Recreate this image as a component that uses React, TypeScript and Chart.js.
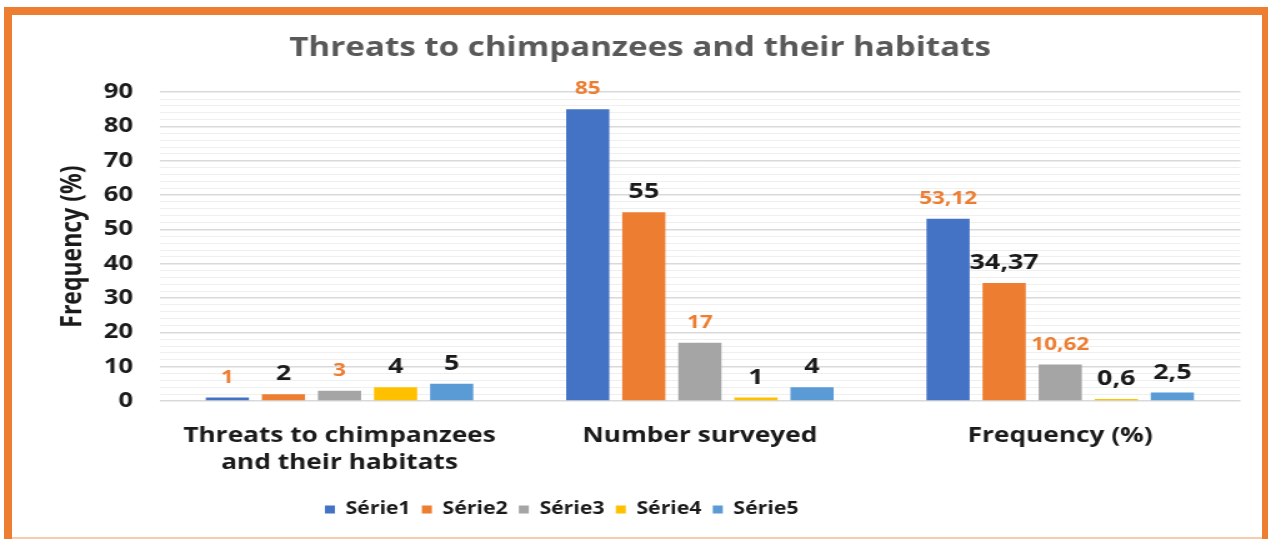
import React, { useEffect, useRef } from 'react';
import { Chart, registerables } from 'chart.js';

Chart.register(...registerables);

// ---- data ----
const categories: (string | string[])[] = [
  ['Threats to chimpanzees', 'and their habitats'],
  'Number surveyed',
  'Frequency (%)',
];
const seriesNames = ['Série1', 'Série2', 'Série3', 'Série4', 'Série5'];
const serie1 = [1, 85, 53.12];
const serie2 = [2, 55, 34.37];
const serie3 = [3, 17, 10.62];
const serie4 = [4, 1, 0.6];
const serie5 = [5, 4, 2.5];
const seriesValues = [serie1, serie2, serie3, serie4, serie5];
const yMin = 0;
const yMax = 90;
const yMajorStep = 10;
const yMinorStep = 2;
const chartTitle = 'Threats to chimpanzees and their habitats';
const yAxisTitle = 'Frequency (%)';

// ---- styles ----
const seriesColors = ['#4472C4', '#ED7D31', '#A5A5A5', '#FFC000', '#5B9BD5'];
const labelColors = ['#ED7D31', '#1a1a1a', '#ED7D31', '#1a1a1a', '#1a1a1a'];
const labelSizes = [18, 21.5, 18, 21.5, 21.5];
const FONT = '"Open Sans", "DejaVu Sans", sans-serif';

const W = 1271;
const H = 539;
const SX = 1.25; // horizontal stretch of the picture
const IW = Math.round(W / SX);
const LEGEND_LEFT = 251;
const TITLE_SHIFT = 16;

const fmt = (v: number) => String(v).replace('.', ',');

const dataLabels = {
  id: 'dataLabels',
  afterDatasetsDraw(chart: any) {
    const ctx = chart.ctx;
    ctx.save();
    ctx.textAlign = 'center';
    ctx.textBaseline = 'middle';
    chart.data.datasets.forEach((ds: any, i: number) => {
      const meta = chart.getDatasetMeta(i);
      ctx.font = `bold ${labelSizes[i]}px ${FONT}`;
      meta.data.forEach((bar: any, j: number) => {
        ctx.fillStyle = labelColors[i];
        ctx.fillText(fmt(ds.data[j]), bar.x, bar.y - 20);
      });
    });
    ctx.restore();
  },
};

const boxShift = {
  id: 'boxShift',
  afterLayout(chart: any) {
    const lg = chart.legend;
    if (lg) {
      const w = lg.right - lg.left;
      lg.left = LEGEND_LEFT;
      lg.right = LEGEND_LEFT + w;
    }
    const tb = chart.titleBlock;
    if (tb) {
      tb.left += TITLE_SHIFT;
      tb.right += TITLE_SHIFT;
    }
  },
};

export default function App() {
  const ref = useRef<HTMLCanvasElement>(null);

  useEffect(() => {
    if (!ref.current) return;
    const chart = new Chart(ref.current, {
      type: 'bar',
      data: {
        labels: categories as any,
        datasets: seriesValues.map((vals, i) => ({
          label: seriesNames[i],
          data: vals,
          backgroundColor: seriesColors[i],
          borderWidth: 0,
          categoryPercentage: 0.778,
          barPercentage: 0.77,
        })),
      },
      options: {
        responsive: false,
        animation: false,
        events: [],
        layout: { padding: { left: 0, right: 24.5, top: 0, bottom: 11 } },
        plugins: {
          title: {
            display: true,
            text: chartTitle,
            color: '#595959',
            font: { family: FONT, size: 26.5, weight: 'bold' },
            padding: { top: 33, bottom: 27.4 },
          },
          legend: {
            display: true,
            position: 'bottom',
            align: 'start',
            labels: {
              boxWidth: 8,
              boxHeight: 8,
              padding: 9,
              color: '#1a1a1a',
              font: { family: FONT, size: 17, weight: 'bold' },
            },
          },
          tooltip: { enabled: false },
        },
        scales: {
          x: {
            grid: { display: false },
            border: { display: false },
            ticks: {
              color: '#1a1a1a',
              padding: 13.5,
              maxRotation: 0,
              autoSkip: false,
              font: { family: FONT, size: 21, weight: 'bold', lineHeight: 1.3 },
            },
            afterFit(scale: any) {
              scale.height = 91;
            },
          },
          y: {
            min: yMin,
            max: yMax,
            border: { display: false },
            grid: {
              drawTicks: false,
              color: (c: any) => (c.tick && c.tick.value % yMajorStep === 0 ? '#d9d9d9' : '#efefef'),
              lineWidth: (c: any) => (c.tick && c.tick.value % yMajorStep === 0 ? 1.6 : 1),
            },
            ticks: {
              stepSize: yMinorStep,
              autoSkip: false,
              padding: 21,
              color: '#1a1a1a',
              font: { family: FONT, size: 20.5, weight: 'bold' },
              callback: (v: any) => (Number(v) % yMajorStep === 0 ? String(v) : ''),
            },
            title: {
              display: true,
              text: yAxisTitle,
              color: '#1a1a1a',
              font: { family: FONT, size: 23, weight: 'bold' },
              padding: { top: 45, bottom: 0 },
            },
            afterFit(scale: any) {
              scale.width = 127.5;
            },
          },
        },
      } as any,
      plugins: [dataLabels, boxShift],
    });
    return () => chart.destroy();
  }, []);

  return (
    <div style={{ position: 'fixed', left: 0, top: 0, width: W, height: H, background: '#fff', overflow: 'hidden' }}>
      <canvas
        ref={ref}
        width={IW}
        height={H}
        style={{ position: 'absolute', left: 0, top: 0, width: `${W}px`, height: `${H}px` }}
      />
      <div style={{ position: 'absolute', left: 4, top: 7, width: 8, height: H - 7, background: '#ED7D31' }} />
      <div style={{ position: 'absolute', left: 4, top: 7, width: 1264, height: 8, background: '#ED7D31' }} />
      <div style={{ position: 'absolute', left: 1262, top: 7, width: 6, height: H - 7, background: '#ED7D31' }} />
      <div style={{ position: 'absolute', left: 12, top: H - 2, width: 1250, height: 2, background: '#F8CBAD' }} />
    </div>
  );
}
